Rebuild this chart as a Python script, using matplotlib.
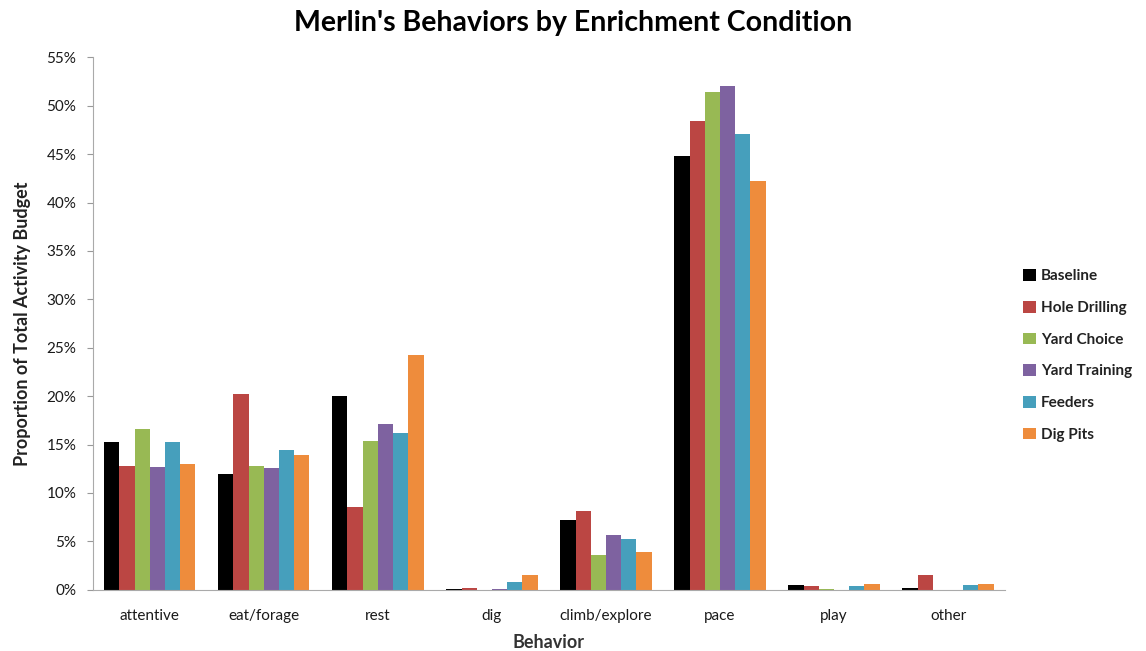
import numpy as np
import matplotlib
matplotlib.use("Agg")
import matplotlib.pyplot as plt
from matplotlib.ticker import FuncFormatter

plt.rcParams['font.family'] = ['Lato', 'DejaVu Sans']

behaviors = ['attentive', 'eat/forage', 'rest', 'dig', 'climb/explore', 'pace', 'play', 'other']
conditions = ['Baseline', 'Hole Drilling', 'Yard Choice', 'Yard Training', 'Feeders', 'Dig Pits']
colors = ['#000000', '#BB4643', '#98B954', '#7E62A0', '#469FBC', '#EE8C3C']

baseline = [15.3, 12.0, 20.0, 0.1, 7.2, 44.8, 0.5, 0.15]
hole_drilling = [12.8, 20.2, 8.6, 0.2, 8.1, 48.4, 0.35, 1.5]
yard_choice = [16.6, 12.8, 15.4, 0.0, 3.6, 51.4, 0.1, 0.0]
yard_training = [12.7, 12.6, 17.1, 0.1, 5.7, 52.0, 0.0, 0.0]
feeders = [15.3, 14.4, 16.2, 0.8, 5.2, 47.1, 0.35, 0.5]
dig_pits = [13.0, 13.9, 24.3, 1.5, 3.9, 42.2, 0.65, 0.65]

series = [baseline, hole_drilling, yard_choice, yard_training, feeders, dig_pits]

fig = plt.figure(figsize=(11.46, 6.51), dpi=100)
ax = fig.add_axes([0.081, 0.094, 0.796, 0.818])

x = np.arange(len(behaviors))
w = 0.8 / len(series)
for i, (vals, name, c) in enumerate(zip(series, conditions, colors)):
    ax.bar(x - 0.4 + w * (i + 0.5), vals, w, color=c, label=name)

ax.set_xlim(-0.5, len(behaviors) - 0.5)
ax.set_ylim(0, 55)
ax.set_yticks(np.arange(0, 56, 5))
ax.yaxis.set_major_formatter(FuncFormatter(lambda v, p: f"{v:.0f}%"))
ax.set_xticks(x)
ax.set_xticklabels(behaviors)
ax.tick_params(axis='x', length=0, pad=14, labelsize=11, labelcolor='#1a1a1a')
ax.tick_params(axis='y', length=4, color='#999999', labelsize=11, labelcolor='#1a1a1a', pad=8)
for s in ['top', 'right']:
    ax.spines[s].set_visible(False)
for s in ['left', 'bottom']:
    ax.spines[s].set_color('#aaaaaa')

ax.set_xlabel('Behavior', fontsize=13, fontweight='bold', color='#333333', labelpad=8)
ax.set_ylabel('Proportion of Total Activity Budget', fontsize=13, fontweight='bold', color='#222222', labelpad=11)
fig.suptitle("Merlin's Behaviors by Enrichment Condition", fontsize=20.5, fontweight='bold', y=0.985, x=0.5)

leg = ax.legend(loc='center left', bbox_to_anchor=(1.005, 0.44), frameon=False,
                fontsize=11, handlelength=0.8, handleheight=0.8, handletextpad=0.35,
                labelspacing=1.15)
for t in leg.get_texts():
    t.set_fontweight('bold')
    t.set_color('#222222')

fig.savefig('out.png', dpi=100)
